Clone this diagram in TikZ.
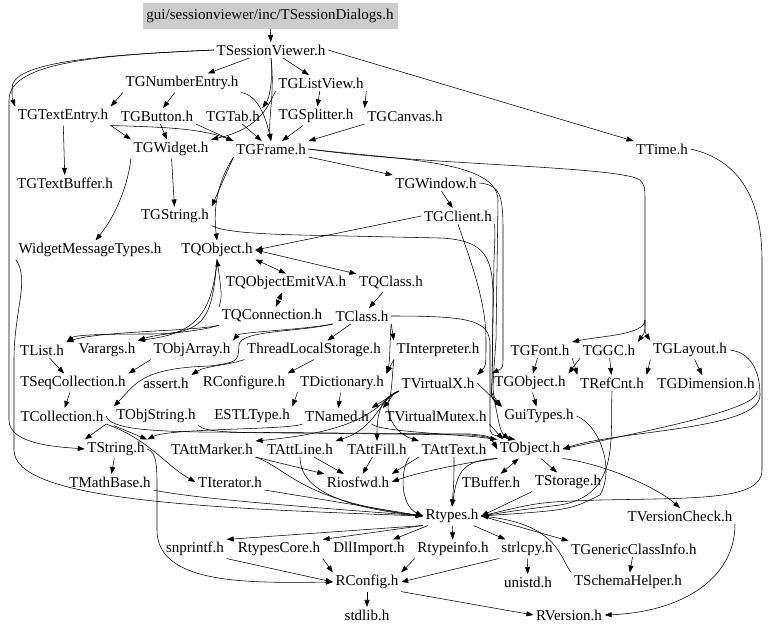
\documentclass[tikz,border=0pt]{standalone}
\usepackage{fontspec}
\setmainfont{Liberation Serif}
\usetikzlibrary{arrows.meta}

\begin{document}
\begin{tikzpicture}[x=1pt,y=-1pt,
	hdr/.style={inner sep=2.5pt, font=\fontsize{15}{17}\selectfont},
	topfile/.style={hdr, fill=black!20, minimum width=255pt, minimum height=26pt},
	dep/.style={-{Triangle[length=7pt,width=5pt]}, line width=0.55pt},
	mutual/.style={{Triangle[length=7pt,width=5pt]}-{Triangle[length=7pt,width=5pt]}, line width=0.55pt}]
	\useasboundingbox (0,0) rectangle (768,634);

	\node[topfile] (dialogs) at (270,16) {gui/sessionviewer/inc/TSessionDialogs.h};
	\node[hdr] (viewer) at (271,50) {TSessionViewer.h};
	\node[hdr] (numentry) at (182,83) {TGNumberEntry.h};
	\node[hdr] (listview) at (321,83) {TGListView.h};
	\node[hdr] (textentry) at (63,116) {TGTextEntry.h};
	\node[hdr] (button) at (157,116) {TGButton.h};
	\node[hdr] (tab) at (233,116) {TGTab.h};
	\node[hdr] (splitter) at (316,116) {TGSplitter.h};
	\node[hdr] (canvas) at (405,116) {TGCanvas.h};
	\node[hdr] (ttime) at (662,149) {TTime.h};
	\node[hdr] (widget) at (171,149) {TGWidget.h};
	\node[hdr] (frame) at (271,149) {TGFrame.h};
	\node[hdr] (textbuffer) at (65,183) {TGTextBuffer.h};
	\node[hdr] (window) at (436,183) {TGWindow.h};
	\node[hdr] (gstring) at (175,216) {TGString.h};
	\node[hdr] (client) at (458,216) {TGClient.h};
	\node[hdr] (widgetmsg) at (90,250) {WidgetMessageTypes.h};
	\node[hdr] (qobject) at (217,250) {TQObject.h};
	\node[hdr] (emitva) at (286,283) {TQObjectEmitVA.h};
	\node[hdr] (qclass) at (391,283) {TQClass.h};
	\node[hdr] (qconn) at (272,316) {TQConnection.h};
	\node[hdr] (tclass) at (362,316) {TClass.h};
	\node[hdr] (tlist) at (42,350) {TList.h};
	\node[hdr] (varargs) at (107,350) {Varargs.h};
	\node[hdr] (objarray) at (192,350) {TObjArray.h};
	\node[hdr] (tls) at (314,350) {ThreadLocalStorage.h};
	\node[hdr] (interp) at (438,350) {TInterpreter.h};
	\node[hdr] (gfont) at (540,350) {TGFont.h};
	\node[hdr] (ggc) at (609,350) {TGGC.h};
	\node[hdr] (glayout) at (690,350) {TGLayout.h};
	\node[hdr] (seqcoll) at (73,383) {TSeqCollection.h};
	\node[hdr] (assert) at (166,383) {assert.h};
	\node[hdr] (rconfigure) at (244,383) {RConfigure.h};
	\node[hdr] (dict) at (342,383) {TDictionary.h};
	\node[hdr] (virtualx) at (438,383) {TVirtualX.h};
	\node[hdr] (gobject) at (530,383) {TGObject.h};
	\node[hdr] (refcnt) at (612,383) {TRefCnt.h};
	\node[hdr] (gdim) at (706,383) {TGDimension.h};
	\node[hdr] (collection) at (62,416) {TCollection.h};
	\node[hdr] (objstring) at (156,416) {TObjString.h};
	\node[hdr] (estl) at (252,416) {ESTLType.h};
	\node[hdr] (named) at (337,416) {TNamed.h};
	\node[hdr] (vmutex) at (436,416) {TVirtualMutex.h};
	\node[hdr] (guitypes) at (539,416) {GuiTypes.h};
	\node[hdr] (tstring) at (116,449) {TString.h};
	\node[hdr] (attmarker) at (212,449) {TAttMarker.h};
	\node[hdr] (attline) at (300,449) {TAttLine.h};
	\node[hdr] (attfill) at (377,449) {TAttFill.h};
	\node[hdr] (atttext) at (454,449) {TAttText.h};
	\node[hdr] (tobject) at (530,449) {TObject.h};
	\node[hdr] (mathbase) at (110,482) {TMathBase.h};
	\node[hdr] (iterator) at (230,482) {TIterator.h};
	\node[hdr] (riosfwd) at (358,482) {Riosfwd.h};
	\node[hdr] (buffer) at (491,482) {TBuffer.h};
	\node[hdr] (storage) at (568,482) {TStorage.h};
	\node[hdr] (rtypes) at (452,516) {Rtypes.h};
	\node[hdr] (vcheck) at (680,516) {TVersionCheck.h};
	\node[hdr] (snprintf) at (195,549) {snprintf.h};
	\node[hdr] (rtcore) at (279,549) {RtypesCore.h};
	\node[hdr] (dllimport) at (369,549) {DllImport.h};
	\node[hdr] (rtinfo) at (453,549) {Rtypeinfo.h};
	\node[hdr] (strlcpy) at (527,549) {strlcpy.h};
	\node[hdr] (genclass) at (634,549) {TGenericClassInfo.h};
	\node[hdr] (rconfig) at (367,582) {RConfig.h};
	\node[hdr] (unistd) at (528,582) {unistd.h};
	\node[hdr] (schema) at (628,582) {TSchemaHelper.h};
	\node[hdr] (stdlib) at (367,615) {stdlib.h};
	\node[hdr] (rversion) at (569,615) {RVersion.h};

	% gui part
	\path [dep]
	(dialogs) edge (viewer)
	(viewer) edge (numentry)
	(viewer) edge (listview)
	(viewer.east) edge (ttime.north west)
	(numentry.south west) edge (textentry.north east)
	(numentry) edge (button)
	(listview) edge (splitter)
	(listview.south east) edge (canvas.north west)
	(textentry.south east) edge (widget.north west)
	(textentry) edge (textbuffer)
	(button) edge (widget)
	(button.south east) edge (frame.north west)
	(tab) edge (frame)
	(splitter) edge (frame)
	(canvas.south west) edge (frame.north east)
	(widget) edge (gstring)
	(frame.south west) edge (gstring.north east)
	(frame.south east) edge (window.north west)
	(window) edge (client)
	(client.west) edge (qobject.east)
	(qclass) edge (tclass);

	\draw[dep] (viewer.west) .. controls (100,55) and (12,62) .. (12,88) .. controls (12,98) .. (textentry.north west);
	\draw[dep] (viewer.west) .. controls (100,55) and (9,62) .. (9,100) -- (9,420) .. controls (9,445) and (60,447) .. (tstring.west);
	\draw[dep] (viewer.south) .. controls (273,88) and (268,100) .. (tab.north east);
	\draw[dep] (viewer.south) .. controls (275,92) and (268,120) .. (frame.north);
	\draw[dep] (numentry.south east) .. controls (258,95) and (266,118) .. (frame.north);
	\draw[dep] (listview.south west) .. controls (270,100) and (264,128) .. (widget.north east);
	\draw[dep] (textentry.south east) .. controls (160,127) and (200,128) .. (frame.north west);
	\draw[dep] (widget.south west) .. controls (128,185) and (116,215) .. (widgetmsg.60);
	\draw[dep] (frame.south west) .. controls (222,175) and (212,200) .. (qobject.north);
	\draw[dep] (frame.east) .. controls (420,165) and (620,166) .. (640,180) .. controls (645,186) .. (645,205) -- (645,320) .. controls (645,335) and (600,336) .. (gfont.north east);
	\draw[dep] (645,320) .. controls (645,332) .. (ggc.north east);
	\draw[dep] (645,320) .. controls (645,333) .. (glayout.north west);
	\draw[dep] (frame.east) .. controls (400,160) and (497,160) .. (498,200) -- (496,340) .. controls (492,395) .. (guitypes.north west);
	\draw[dep] (window.east) .. controls (500,185) and (503,195) .. (503,230) -- (503,355) .. controls (503,368) .. (gobject.north west);
	\draw[dep] (client.south east) .. controls (495,235) .. (494,260) -- (492,380) .. controls (491,398) .. (guitypes.north west);
	\draw[dep] (client.south) .. controls (470,260) and (486,300) .. (486,340) .. controls (486,366) .. (virtualx.north east);
	\draw[dep] (gstring.south east) .. controls (222,232) and (260,234) .. (300,235) -- (440,238) .. controls (488,240) and (493,260) .. (493,300) -- (492,385) .. controls (491,398) .. (guitypes.north west);
	\draw[dep] (widgetmsg.south west) .. controls (30,280) and (14,310) .. (14,360) -- (14,450) .. controls (14,500) and (200,508) .. (rtypes.west);
	\draw[dep] (ttime.east) .. controls (740,160) and (762,200) .. (762,260) -- (762,470) .. controls (762,500) and (700,498) .. (600,500) .. controls (540,502) .. (rtypes.east);

	% signal/slot and core part
	\draw[mutual] (qobject.east) -- (qclass.north west);
	\draw[mutual] (qobject.south east) -- (emitva.north);
	\draw[mutual] (emitva) -- (qconn);
	\draw[dep] (qconn.north west) .. controls (222,296) .. (qobject.south);
	\draw[dep] (qobject.south) .. controls (212,320) and (205,334) .. (150,334) .. controls (100,334) and (75,335) .. (tlist.north east);
	\draw[dep] (qobject.south) .. controls (212,320) and (190,334) .. (varargs.north east);
	\draw[dep] (qconn.south west) .. controls (200,331) and (100,331) .. (tlist.north east);
	\draw[dep] (qconn.south west) .. controls (200,332) and (160,333) .. (varargs.north east);
	\draw[dep] (tclass.south west) .. controls (300,330) and (240,332) .. (objarray.north east);
	\draw[dep] (tclass) -- (tls);
	\draw[dep] (tclass.south east) -- (interp.north west);
	\draw[dep] (tclass.south east) .. controls (390,335) and (390,362) .. (dict.north east);
	\draw[dep] (tclass.south west) .. controls (300,332) and (240,330) .. (239,345) .. controls (238,362) .. (210,366) .. controls (140,368) and (135,385) .. (objstring.north west);
	\draw[dep] (tclass.east) .. controls (470,316) and (490,320) .. (490,345) -- (490,425) .. controls (490,435) .. ([xshift=18pt]tobject.north west);
	\draw[dep] (tls.south) -- (rconfigure.north east);
	\draw[dep] (tls.south west) .. controls (230,365) and (205,366) .. (assert.north east);

	\path [dep]
	(tlist) edge (seqcoll)
	(objarray.south west) edge (seqcoll.north east)
	(seqcoll) edge (collection)
	(collection.south east) edge (tstring.north west)
	(objstring.south west) edge (tstring.north east)
	(dict) edge (named)
	(dict.south west) edge (estl.north east)
	(interp.south west) edge (dict.north east)
	(vmutex.south east) edge ([xshift=6pt]tobject.north west)
	(virtualx.south west) edge (named.north east)
	(virtualx.east) edge (guitypes.north west)
	(gfont) edge (gobject)
	(gfont.south east) edge (refcnt.north west)
	(ggc.south west) edge (gobject.north east)
	(ggc) edge (refcnt)
	(glayout) edge (gdim)
	(glayout.south west) edge (refcnt.north east)
	(gobject) edge (guitypes)
	(tstring) edge (mathbase);

	\draw[dep] (interp.south west) .. controls (392,375) and (392,398) .. (vmutex.north west);
	\draw[dep] (gobject.south west) .. controls (496,400) and (498,430) .. ([xshift=12pt]tobject.north west);
	\draw[dep] (collection.south east) .. controls (150,440) and (165,465) .. (iterator.west);
	\draw[dep] (collection.east) .. controls (110,429) and (150,431) .. (200,432) -- (470,434) .. controls (490,436) .. (tobject.west);
	\draw[dep] (objstring.south east) .. controls (205,432) and (230,433) .. (300,433) -- (470,435) .. controls (490,437) .. (tobject.west);
	\draw[dep] (named.south east) .. controls (380,432) and (460,434) .. (tobject.north west);
	\draw[dep] (named.south west) .. controls (290,430) and (170,428) .. (tstring.north east);
	\draw[dep] (virtualx.south west) .. controls (378,398) and (377,420) .. (attfill.north);
	\draw[dep] (virtualx.south west) .. controls (378,400) and (377,428) .. (attline.north east);
	\draw[dep] (virtualx.south west) .. controls (378,400) and (377,430) .. (attmarker.north east);
	\draw[dep] (virtualx.south west) .. controls (378,400) and (390,432) .. (atttext.north west);
	\draw[dep] (glayout.east) .. controls (750,352) and (760,370) .. (760,395) .. controls (760,430) and (620,430) .. (tobject.east);
	\draw[dep] (gdim.south east) .. controls (760,410) and (640,432) .. (tobject.east);
	\draw[dep] (guitypes.east) .. controls (600,425) and (615,470) .. (600,495) .. controls (570,510) .. (rtypes.east);
	\draw[dep] (refcnt.south) .. controls (610,440) and (620,495) .. (560,505) .. controls (520,510) .. (rtypes.east);
	\draw[dep] (tstring.east) .. controls (158,452) and (157,470) .. (157,500) -- (157,530) .. controls (157,585) and (250,583) .. (rconfig.west);

	% base types
	\path [dep]
	(attmarker.south east) edge (riosfwd.north west)
	(attline) edge (riosfwd)
	(attfill) edge (riosfwd)
	(atttext.south west) edge (riosfwd.north east)
	(tobject) edge (storage)
	(storage.south west) edge (rtypes.east)
	(iterator.south east) edge (rtypes.west)
	(rtypes.south west) edge (snprintf.north east)
	(rtypes.south west) edge (rtcore.north east)
	(rtypes) edge (dllimport)
	(rtypes) edge (rtinfo)
	(rtypes) edge (strlcpy)
	(rtypes.east) edge (genclass.north west)
	(genclass) edge (schema)
	(snprintf.south east) edge (rconfig.west)
	(rtcore.south east) edge (rconfig.north west)
	(rtinfo.south west) edge (rconfig.north east)
	(strlcpy.south west) edge (rconfig.east)
	(strlcpy) edge (unistd)
	(rconfig) edge (stdlib)
	(rconfig.south east) edge (rversion.west);

	\draw[mutual] (tobject) -- (buffer);
	\draw[dep] (tobject.south west) .. controls (450,465) and (410,475) .. (riosfwd.east);
	\draw[dep] (tobject.south west) .. controls (460,460) and (457,475) .. (rtypes.north);
	\draw[dep] (atttext.south) .. controls (454,480) .. (rtypes.north);
	\draw[dep] (attmarker.south east) .. controls (290,470) and (300,500) .. (rtypes.west);
	\draw[dep] (attline.south) .. controls (300,480) and (320,505) .. (rtypes.west);
	\draw[dep] (attfill.south east) .. controls (400,470) and (400,505) .. (rtypes.west);
	\draw[dep] (mathbase.south east) .. controls (200,500) and (350,510) .. (rtypes.west);
	\draw[dep] (tobject.south east) .. controls (610,465) and (660,490) .. (vcheck.north);
	\draw[dep] (schema.north west) .. controls (560,560) and (560,525) .. (rtypes.east);
	\draw[dep] (vcheck.south east) .. controls (735,580) and (680,612) .. (rversion.east);
\end{tikzpicture}
\end{document}
